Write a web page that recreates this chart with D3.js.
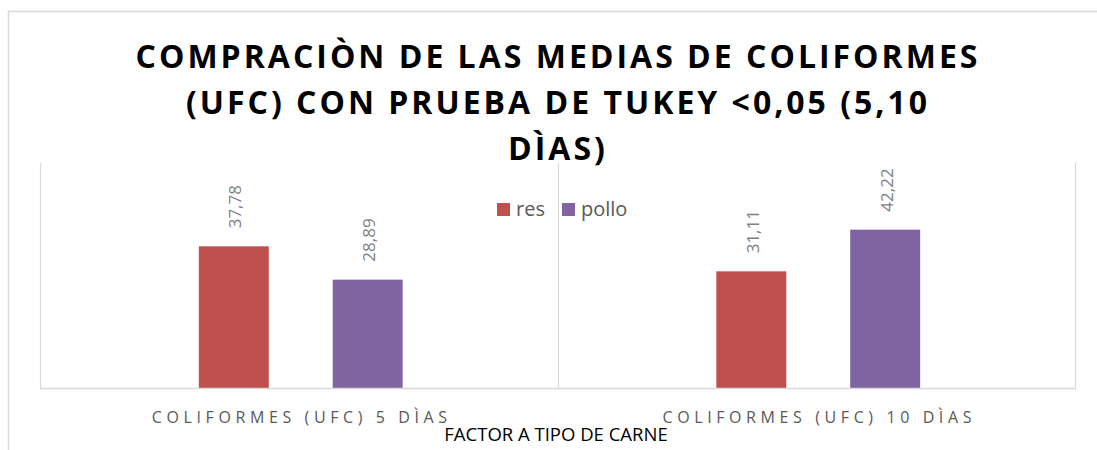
<!DOCTYPE html>
<html>
<head>
<meta charset="utf-8">
<script src="https://cdn.jsdelivr.net/npm/d3@7"></script>
<style>
  body { margin: 0; background: #fff; }
  text { font-family: "Open Sans", sans-serif; }
</style>
</head>
<body>
<div id="chart"></div>
<script>
const CATEGORIES = ["COLIFORMES (UFC) 5 DÌAS", "COLIFORMES (UFC) 10 DÌAS"];
const SERIES = ["res", "pollo"];
const RES = [37.78, 31.11];
const POLLO = [28.89, 42.22];
const LABELS = ["37,78", "31,11", "28,89", "42,22"];
const TITLE = ["COMPRACIÒN DE LAS MEDIAS DE COLIFORMES", "(UFC) CON PRUEBA DE TUKEY <0,05 (5,10", "DÌAS)"];
const AXIS_TITLE = "FACTOR A TIPO DE CARNE";

var colors = {"res": "#c0504d", "pollo": "#8064a2"};
var values = {"res": RES, "pollo": POLLO};

var width = 1097, height = 450;
var plot = {left: 40, right: 1075, top: 163, bottom: 388};

var svg = d3.select("#chart")
  .append("svg")
  .attr("width", width)
  .attr("height", height);

// outer chart frame (only top and left edges show)
svg.append("path")
  .attr("d", "M8.5,450 V11.5 H1097")
  .attr("fill", "none")
  .attr("stroke", "#d9d9d9")
  .attr("stroke-width", 1.5);

var x0 = d3.scaleBand()
  .domain(CATEGORIES)
  .range([plot.left, plot.right]);

var x1 = d3.scaleBand()
  .domain(SERIES)
  .range([2, x0.bandwidth() + 2])
  .paddingInner(0.4776)
  .paddingOuter(1.1716);

var y = d3.scaleLinear()
  .domain([0, 60])
  .range([plot.bottom, plot.top]);

// vertical category dividers
var edges = CATEGORIES.map(function(c) { return x0(c); }).concat([plot.right]);
svg.append("g").selectAll("line")
  .data(edges)
  .enter()
  .append("line")
  .attr("x1", function(d) { return Math.round(d) + 0.5; })
  .attr("x2", function(d) { return Math.round(d) + 0.5; })
  .attr("y1", plot.top)
  .attr("y2", plot.bottom)
  .attr("stroke", "#d9d9d9")
  .attr("stroke-width", 1.2);

// bars
var rows = [];
SERIES.forEach(function(s, si) {
  CATEGORIES.forEach(function(c, ci) {
    rows.push({series: s, cat: c, value: values[s][ci], label: LABELS[si * 2 + ci]});
  });
});

svg.append("g").selectAll("rect")
  .data(rows)
  .enter()
  .append("rect")
  .attr("x", function(d) { return x0(d.cat) + x1(d.series); })
  .attr("y", function(d) { return y(d.value); })
  .attr("width", x1.bandwidth())
  .attr("height", function(d) { return y(0) - y(d.value); })
  .attr("fill", function(d) { return colors[d.series]; });

// data labels, rotated
svg.append("g").selectAll("text")
  .data(rows)
  .enter()
  .append("text")
  .attr("transform", function(d) {
    var cx = x0(d.cat) + x1(d.series) + x1.bandwidth() / 2 + 1;
    return "translate(" + cx + "," + (y(d.value) - 18) + ") rotate(-90)";
  })
  .attr("dominant-baseline", "central")
  .style("font-size", "17px")
  .style("fill", "#7f7f7f")
  .text(function(d) { return d.label; });

// bottom axis line
svg.append("line")
  .attr("x1", plot.left)
  .attr("x2", plot.right + 1)
  .attr("y1", plot.bottom + 0.5)
  .attr("y2", plot.bottom + 0.5)
  .attr("stroke", "#d9d9d9")
  .attr("stroke-width", 1.5);

// category labels
svg.append("g").selectAll("text")
  .data(CATEGORIES)
  .enter()
  .append("text")
  .attr("x", function(d) { return x0(d) + x0.bandwidth() / 2 + 3; })
  .attr("y", 423)
  .style("text-anchor", "middle")
  .style("font-size", "16px")
  .style("letter-spacing", "4.6px")
  .style("fill", "#595959")
  .text(function(d) { return d; });

// axis title
svg.append("text")
  .attr("x", 556)
  .attr("y", 441)
  .style("text-anchor", "middle")
  .style("font-size", "18.5px")
  .style("fill", "#000")
  .text(AXIS_TITLE);

// chart title
svg.append("g").selectAll("text")
  .data(TITLE)
  .enter()
  .append("text")
  .attr("x", 558)
  .attr("y", function(d, i) { return 68 + i * 46; })
  .style("text-anchor", "middle")
  .style("font-size", "32px")
  .style("font-weight", "bold")
  .style("letter-spacing", "3px")
  .style("fill", "#000")
  .text(function(d) { return d; });

// legend
var legend = svg.append("g").selectAll("g")
  .data(SERIES)
  .enter()
  .append("g")
  .attr("transform", function(d, i) { return "translate(" + (497 + i * 65) + ",203)"; });

legend.append("rect")
  .attr("width", 13)
  .attr("height", 13)
  .attr("fill", function(d) { return colors[d]; });

legend.append("text")
  .attr("x", 19)
  .attr("y", 13)
  .style("font-size", "20px")
  .style("fill", "#595959")
  .text(function(d) { return d; });
</script>
</body>
</html>
